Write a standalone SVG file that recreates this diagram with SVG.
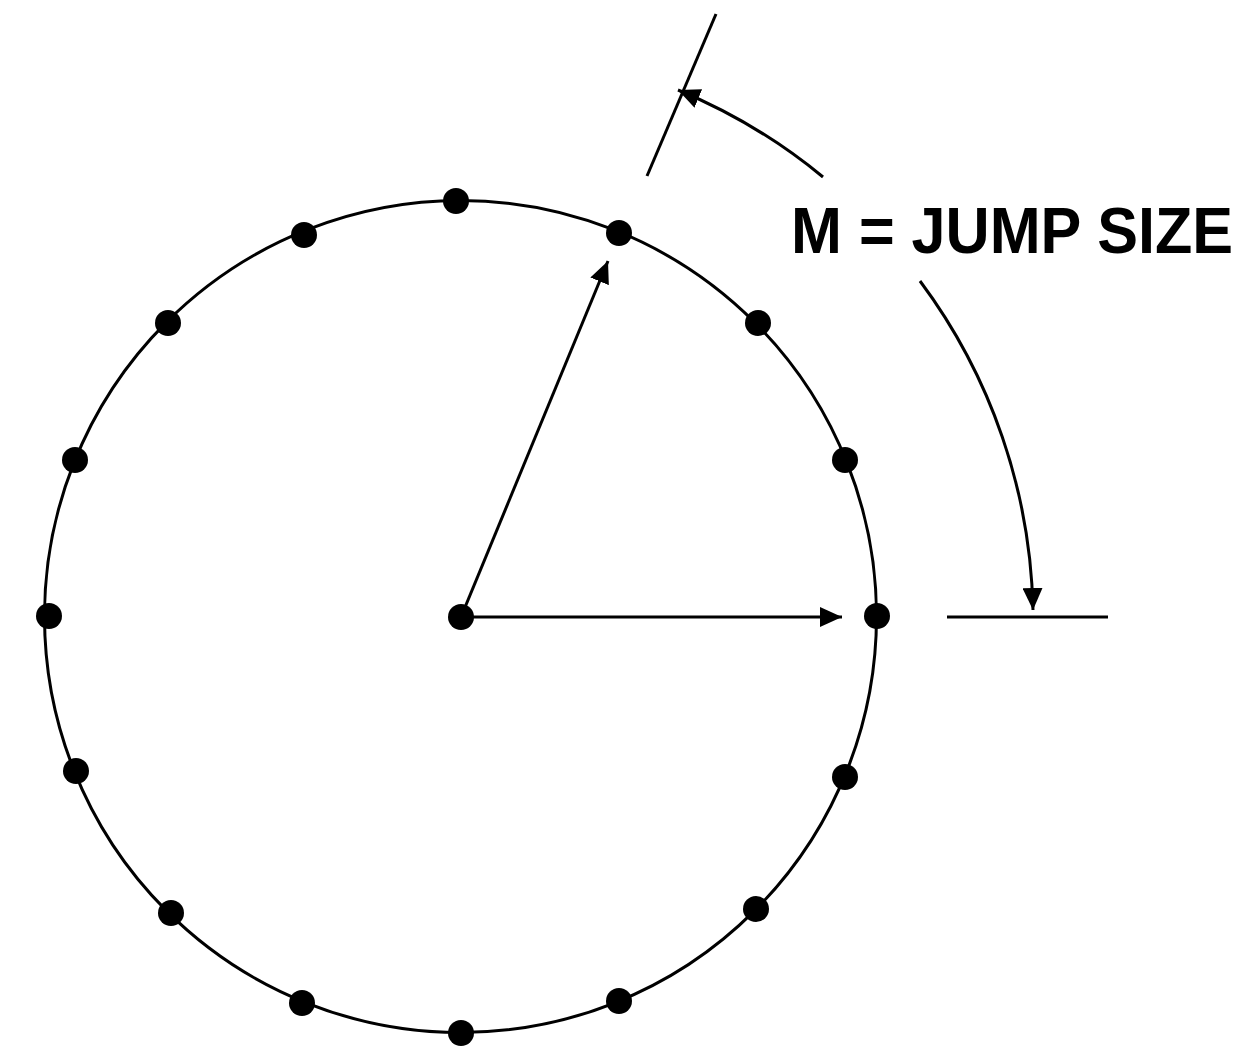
<svg xmlns="http://www.w3.org/2000/svg" width="1258" height="1064" viewBox="0 0 1258 1064">
  <style>
    .ln { fill: none; stroke: #000; stroke-width: 3; }
    .dot { fill: #000; }
    .lbl { font-family: "Liberation Sans", Arial, sans-serif; font-weight: bold; font-size: 64px; fill: #000; }
  </style>
  <defs>
    <marker id="ah" viewBox="0 0 22 20" refX="22" refY="10" markerWidth="22" markerHeight="20" markerUnits="userSpaceOnUse" orient="auto-start-reverse">
      <path d="M0,0 L22,10 L0,20 Z" fill="#000"/>
    </marker>
  </defs>
  <rect width="1258" height="1064" fill="#fff"/>
  <g id="ring">
    <circle class="ln" cx="460.5" cy="616.5" r="416"/>
  </g>
  <g id="connectors">
    <line class="ln" x1="461" y1="617" x2="842" y2="617" marker-end="url(#ah)"/>
    <line class="ln" x1="461" y1="617" x2="608" y2="261" marker-end="url(#ah)"/>
    <line class="ln" x1="647" y1="176" x2="716" y2="14"/>
    <line class="ln" x1="947" y1="617" x2="1108" y2="617"/>
    <path class="ln" d="M678,90 A570,570 0 0 1 823,177" marker-start="url(#ah)"/>
    <path class="ln" d="M920,281 A570,570 0 0 1 1033,610" marker-end="url(#ah)"/>
  </g>
  <g id="dots">
    <circle class="dot" cx="456" cy="201" r="13"/>
    <circle class="dot" cx="619" cy="233" r="13"/>
    <circle class="dot" cx="758" cy="323" r="13"/>
    <circle class="dot" cx="845" cy="460" r="13"/>
    <circle class="dot" cx="877" cy="616" r="13"/>
    <circle class="dot" cx="845" cy="777" r="13"/>
    <circle class="dot" cx="756" cy="909" r="13"/>
    <circle class="dot" cx="619" cy="1001" r="13"/>
    <circle class="dot" cx="461" cy="1033" r="13"/>
    <circle class="dot" cx="302" cy="1003" r="13"/>
    <circle class="dot" cx="171" cy="913" r="13"/>
    <circle class="dot" cx="76" cy="771" r="13"/>
    <circle class="dot" cx="49" cy="616" r="13"/>
    <circle class="dot" cx="75" cy="460" r="13"/>
    <circle class="dot" cx="168" cy="323" r="13"/>
    <circle class="dot" cx="304" cy="235" r="13"/>
    <circle class="dot" cx="461" cy="617" r="13"/>
  </g>
  <g id="label">
    <text class="lbl" x="791" y="253" textLength="442" lengthAdjust="spacingAndGlyphs">M = JUMP SIZE</text>
  </g>
</svg>
